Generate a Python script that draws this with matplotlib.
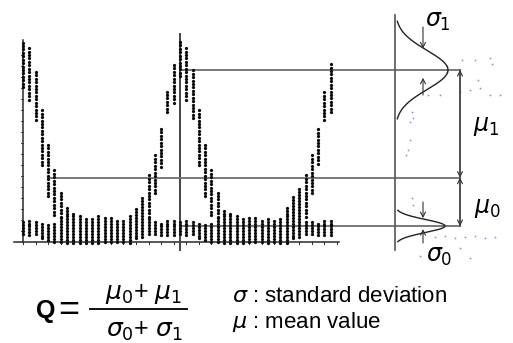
import numpy as np
import matplotlib
matplotlib.use("Agg")
import matplotlib.pyplot as plt

nan = np.nan

# eye pattern: one column per sample slot,
# levels scaled so that the "0" rail is 0.0 and the "1" rail is 1.0
slots = np.arange(50)
pulse_hi = [1.18, 1.14, 1.00, 0.75, 0.54, 0.36, 0.23, nan, nan, nan,
            nan, nan, nan, nan, nan, nan, nan, nan, nan, nan,
            0.33, 0.47, 0.63, 0.87, 1.05, 1.19, 1.14, 1.00, 0.75, 0.54,
            0.36, 0.23, nan, nan, nan, nan, nan, nan, nan, nan,
            nan, nan, nan, nan, nan, 0.33, 0.47, 0.63, 0.87, 1.05]
pulse_lo = [0.89, 0.81, 0.68, 0.39, 0.19, 0.07, 0.06, nan, nan, nan,
            nan, nan, nan, nan, nan, nan, nan, nan, nan, nan,
            0.06, 0.21, 0.38, 0.73, 0.79, 0.96, 0.81, 0.69, 0.39, 0.19,
            0.07, 0.06, nan, nan, nan, nan, nan, nan, nan, nan,
            nan, nan, nan, nan, nan, 0.06, 0.21, 0.40, 0.68, 0.73]
base_hi = [0.04, 0.04, 0.03, 0.02, 0.01, 0.03, 0.06, 0.12, 0.09, 0.07,
           0.06, 0.05, 0.07, 0.06, 0.06, 0.04, 0.04, 0.07, 0.12, 0.19,
           0.05, 0.04, 0.03, 0.04, 0.05, 0.04, 0.04, 0.03, 0.02, 0.01,
           0.03, 0.06, 0.11, 0.09, 0.07, 0.05, 0.06, 0.06, 0.05, 0.05,
           0.04, 0.05, 0.12, 0.19, 0.25, 0.04, 0.04, 0.03, 0.04, 0.04]
base_lo = [-0.05, -0.06, -0.05, -0.08, -0.09, -0.10, -0.10, -0.11, -0.11, -0.11,
           -0.11, -0.11, -0.11, -0.10, -0.10, -0.10, -0.10, -0.11, -0.08, -0.07,
           -0.05, -0.05, -0.06, -0.06, -0.06, -0.05, -0.06, -0.05, -0.08, -0.09,
           -0.10, -0.10, -0.11, -0.11, -0.11, -0.11, -0.10, -0.10, -0.10, -0.11,
           -0.10, -0.11, -0.11, -0.08, -0.07, -0.05, -0.05, -0.06, -0.06, -0.06]

mu1, sigma1 = 1.0, 0.125       # "1" level distribution
mu0, sigma0 = 0.0, 0.042       # "0" level distribution
threshold = 0.31

# faint blue specks around the histogram (slot, level)
blue_t = [67.5, 67.5, 69.9, 72.0, 74.4, 74.7, 72.5, 69.6, 71.2, 72.8, 74.4, 76.0,
          66.4, 64.5, 61.9, 62.1, 61.6, 61.3, 61.6, 61.0, 61.9, 62.1,
          65.6, 67.2, 68.8, 70.4, 72.0, 73.6, 75.2, 63.2, 71.2, 69.6]
blue_L = [1.026, 0.987, 1.064, 1.064, 1.077, 1.038, 0.936, 0.859, 0.872, 0.885, 0.840, 0.840,
          0.840, 0.840, 0.731, 0.692, 0.667, 0.487, 0.551, 0.455, 0.179, 0.135,
          -0.071, -0.064, -0.077, -0.071, -0.064, -0.077, -0.071, -0.192, -0.205, -0.141]

# page geometry: slot 0 sits at 23 px, one slot is 6.28 px, level 0 at 226 px
W, H = 513, 343
X0, DX = 23.0, 6.28
Y0, DY = 226.0, 156.0


def tx(px):
    return (px - X0) / DX


def ly(py):
    return (Y0 - py) / DY


plt.rcParams['mathtext.fontset'] = 'dejavusans'
plt.rcParams['font.family'] = ['Liberation Sans', 'DejaVu Sans']

fig = plt.figure(figsize=(W / 100, H / 100), dpi=100)
ax = fig.add_axes([0, 0, 1, 1])
ax.set_xlim(tx(0), tx(W))
ax.set_ylim(ly(H), ly(0))
ax.set_axis_off()

axc = '#2a2a2a'
gc = '#6e6e6e'

# axes of the eye diagram
ax.plot([0, 0], [ly(242), ly(40)], color=axc, lw=1.1)
ax.plot([tx(14), tx(339)], [ly(242), ly(242)], color=axc, lw=1.1)
for lv in np.arange(ly(242) + 0.07, ly(45), 0.0705):
    ax.plot([tx(21), 0], [lv, lv], color=axc, lw=0.6)
for t in range(0, 51, 2):
    ax.plot([t, t], [ly(242), ly(244)], color=axc, lw=0.7)
ax.plot([25, 25], [ly(250), ly(34)], color='#444444', lw=1.4)

# dots
xs, ys = [], []
for t, ph, pl, bh, bl in zip(slots, pulse_hi, pulse_lo, base_hi, base_lo):
    for v in np.arange(bl, bh + 1e-6, 0.019):
        xs.append(t)
        ys.append(v)
    if not np.isnan(ph):
        for v in np.arange(pl, ph + 1e-6, 0.022):
            xs.append(t)
            ys.append(v)
ax.scatter(xs, ys, s=5.5, color='#0a0a0a', linewidths=0, zorder=3)

# guide lines
hx = tx(395)
rx = tx(460)
ax.plot([tx(182), rx], [mu1, mu1], color=gc, lw=1.3)
ax.plot([tx(48), rx], [threshold, threshold], color=gc, lw=1.3)
ax.plot([25, rx], [mu0, mu0], color=gc, lw=1.3)
ax.plot([hx, hx], [ly(250), ly(15)], color='#555555', lw=1.2)
ax.plot([rx, rx], [mu0, mu1], color='#555555', lw=1.1)

# level distributions
amp1 = 53 / DX
amp0 = 50 / DX
l1 = np.linspace(mu1 - 2.5 * sigma1, mu1 + 2.5 * sigma1, 200)
ax.plot(hx + amp1 * np.exp(-0.5 * ((l1 - mu1) / sigma1) ** 2), l1, color='#222222', lw=1.0)
l0 = np.linspace(mu0 - 2.4 * sigma0, mu0 + 2.4 * sigma0, 200)
ax.plot(hx + amp0 * np.exp(-0.5 * ((l0 - mu0) / sigma0) ** 2), l0, color='#222222', lw=1.0)

ax.scatter(blue_t, blue_L, s=1.6, color='#6f6fc4', linewidths=0, alpha=0.8)

arr = dict(arrowstyle='->,head_length=0.35,head_width=0.18', color='#333333', lw=0.8,
           shrinkA=0, shrinkB=0)
sx = tx(423)
ax.annotate('', xy=(sx, mu1 + 1.1 * sigma1), xytext=(sx, ly(27)), arrowprops=arr)
ax.annotate('', xy=(sx, mu1 - 0.05), xytext=(sx, ly(95)), arrowprops=arr)
ax.annotate('', xy=(sx, mu0 + 1.2 * sigma0), xytext=(sx, ly(202)), arrowprops=arr)
ax.annotate('', xy=(sx, mu0 - 0.02), xytext=(sx, ly(243)), arrowprops=arr)
darr = dict(arrowstyle='<->,head_length=0.35,head_width=0.18', color='#333333', lw=0.8,
            shrinkA=0, shrinkB=0)
ax.annotate('', xy=(rx, mu1), xytext=(rx, threshold), arrowprops=darr)
ax.annotate('', xy=(rx, mu0), xytext=(rx, threshold), arrowprops=darr)

ax.text(tx(438), ly(22), r'$\sigma_1$', fontsize=17, ha='center', va='center')
ax.text(tx(486), ly(126), r'$\mu_1$', fontsize=17, ha='center', va='center')
ax.text(tx(487), ly(208), r'$\mu_0$', fontsize=17, ha='center', va='center')
ax.text(tx(439), ly(257), r'$\sigma_0$', fontsize=17, ha='center', va='center')

# formula and legend
ax.text(tx(36), ly(311), 'Q', fontsize=18, fontweight='bold', ha='left', va='center')
ax.text(tx(69), ly(310), '=', fontsize=26, ha='center', va='center')
ax.plot([tx(90), tx(187)], [ly(309), ly(309)], color='#111111', lw=1.4)
ax.text(tx(144), ly(294), r'$\mu_0$+ $\mu_1$', fontsize=18, ha='center', va='center')
ax.text(tx(144), ly(331), r'$\sigma_0$+ $\sigma_1$', fontsize=18, ha='center', va='center')
ax.text(tx(232), ly(296), r'$\sigma$ : standard deviation', fontsize=16, ha='left', va='center')
ax.text(tx(232), ly(322), r'$\mu$ : mean value', fontsize=16, ha='left', va='center')

fig.savefig('out.png', dpi=100)
